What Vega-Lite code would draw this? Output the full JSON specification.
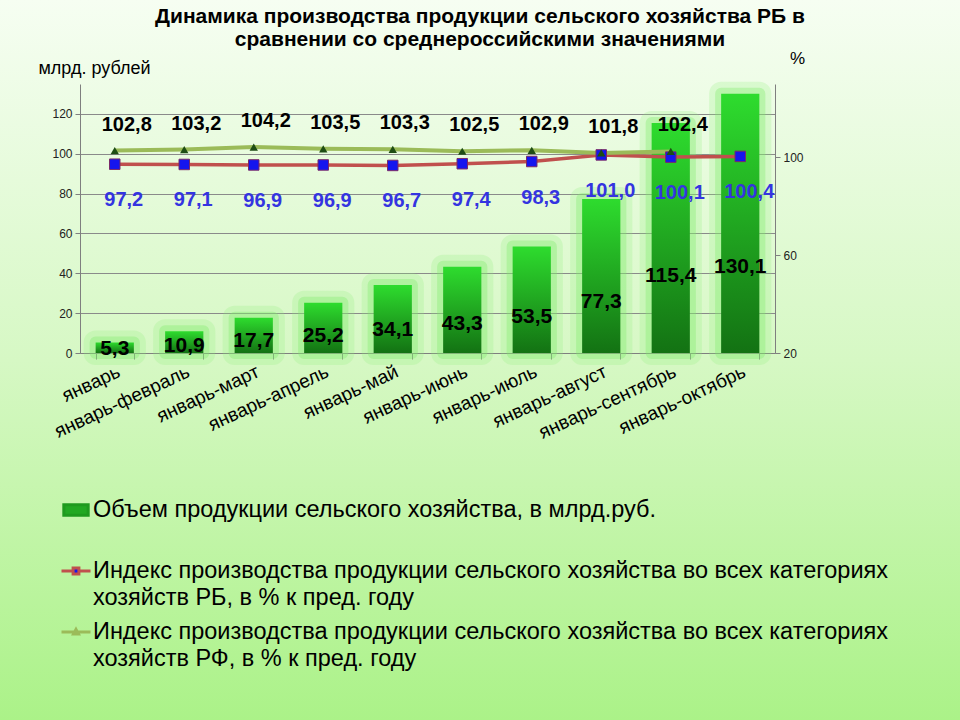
{
  "$schema": "https://vega.github.io/schema/vega-lite/v6.json",
  "width": 960,
  "height": 720,
  "autosize": {"type": "none"},
  "padding": 0,
  "background": "#d6f7c2",
  "config": {
    "view": {"stroke": null, "fill": {"gradient": "linear", "x1": 0, "y1": 0, "x2": 0, "y2": 1, "stops": [{"offset": 0, "color": "#f6fef2"}, {"offset": 0.5, "color": "#d6f8c4"}, {"offset": 1, "color": "#abf288"}]}},
    "font": "Liberation Sans",
    "locale": {"number": {"decimal": ",", "thousands": " ", "grouping": [3], "currency": ["", ""]}},
    "axis": {"labelFont": "Liberation Sans", "labelColor": "#222222", "domainColor": "#7f7f7f", "tickColor": "#7f7f7f", "gridColor": "#8a8a8a", "gridWidth": 1, "titleFont": "Liberation Sans", "titleFontWeight": "normal", "titleColor": "#000000"}
  },
  "title": {
    "text": ["Динамика производства продукции сельского хозяйства РБ в", "сравнении со среднероссийскими значениями"],
    "anchor": "middle",
    "font": "Liberation Sans",
    "fontSize": 21,
    "fontWeight": "bold",
    "color": "#000000",
    "lineHeight": 23,
    "offset": -50
  },
  "data": {"values": [
    {"period": "январь", "volume": 5.3, "rb": 97.2, "rf": 102.8},
    {"period": "январь-февраль", "volume": 10.9, "rb": 97.1, "rf": 103.2},
    {"period": "январь-март", "volume": 17.7, "rb": 96.9, "rf": 104.2},
    {"period": "январь-апрель", "volume": 25.2, "rb": 96.9, "rf": 103.5},
    {"period": "январь-май", "volume": 34.1, "rb": 96.7, "rf": 103.3},
    {"period": "январь-июнь", "volume": 43.3, "rb": 97.4, "rf": 102.5},
    {"period": "январь-июль", "volume": 53.5, "rb": 98.3, "rf": 102.9},
    {"period": "январь-август", "volume": 77.3, "rb": 101.0, "rf": 101.8},
    {"period": "январь-сентябрь", "volume": 115.4, "rb": 100.1, "rf": 102.4},
    {"period": "январь-октябрь", "volume": 130.1, "rb": 100.4, "rf": null}
  ]},
  "encoding": {
    "x": {
      "field": "period", "type": "nominal", "sort": null,
      "scale": {"range": [80, 775], "paddingInner": 0.45, "paddingOuter": 0.225},
      "axis": {"orient": "bottom", "offset": -367, "title": null, "labelAngle": -25, "labelFontSize": 19, "labelColor": "#000000", "tickBand": "extent", "tickSize": 6, "labelPadding": 3, "grid": false, "labelLimit": 300}
    }
  },
  "layer": [
    {
      "encoding": {
        "y": {"field": "volume", "type": "quantitative",
          "scale": {"domain": [0, 135], "range": [353, 84], "nice": false, "zero": true},
          "axis": {"orient": "left", "offset": -80, "values": [0, 20, 40, 60, 80, 100, 120], "grid": true, "tickSize": 5, "labelFontSize": 12, "labelPadding": 3, "title": "млрд. рублей", "titleAngle": 0, "titleX": 14, "titleY": 68, "titleAlign": "center", "titleBaseline": "middle", "titleFontSize": 18}}
      },
      "layer": [
        {"mark": {"type": "bar", "fill": "#8ef07a", "stroke": "#8ef07a", "strokeWidth": 24, "strokeJoin": "round", "opacity": 0.22}},
        {"mark": {"type": "bar", "fill": "#80ec6c", "stroke": "#80ec6c", "strokeWidth": 12, "strokeJoin": "round", "opacity": 0.35}},
        {"mark": {"type": "bar", "fill": {"gradient": "linear", "x1": 0, "y1": 0, "x2": 0, "y2": 1, "stops": [{"offset": 0, "color": "#2edc2e"}, {"offset": 1, "color": "#137213"}]}}},
        {
          "mark": {"type": "line", "strokeOpacity": 0},
          "encoding": {
            "color": {"datum": "Объем  продукции сельского хозяйства, в млрд.руб.", "type": "nominal",
              "scale": {"domain": ["Объем  продукции сельского хозяйства, в млрд.руб.", "Индекс производства продукции сельского хозяйства во всех категориях хозяйств РБ, в % к пред. году", "Индекс производства продукции сельского хозяйства во всех категориях хозяйств РФ, в % к пред. году"], "range": ["#1e9a1e", "#c0504d", "#9bbb59"]},
              "legend": {
                "orient": "none", "legendX": 60, "legendY": 494, "title": null,
                "labelFont": "Liberation Sans", "labelFontSize": 23.5, "labelColor": "#000000", "labelLimit": 900, "labelOffset": 1, "rowPadding": 6,
                "symbolSize": 841, "symbolStrokeWidth": 3,
                "labelExpr": "datum.index == 0 ? [datum.label, ' '] : split(replace(datum.label, ' хозяйств Р', '|хозяйств Р'), '|')",
                "encode": {
                  "labels": {"update": {"lineHeight": {"value": 27}}},
                  "symbols": {"update": {
                    "shape": {"signal": "datum.index == 0 ? 'M-0.84,-0.36H0.84V0.36H-0.84Z' : datum.index == 1 ? 'M-1,0H-0.2M0.2,0H1M-0.2,-0.2H0.2V0.2H-0.2Z' : 'M-1,0H1M0,-0.18L0.17,0.13H-0.17Z'"},
                    "fill": {"signal": "datum.index == 0 ? '#22a822' : datum.index == 1 ? '#1515ee' : '#1e4d14'"},
                    "opacity": {"value": 1}
                  }}
                }
              }}
          }
        }
      ]
    },
    {
      "mark": {"type": "text", "fontSize": 21, "fontWeight": "bold", "fill": "#000000", "baseline": "middle"},
      "encoding": {
        "y": {"field": "volume", "type": "quantitative", "scale": {"domain": [0, 405], "range": [353, 84], "nice": false, "zero": true}, "axis": null},
        "text": {"field": "volume", "type": "quantitative", "format": ".1f"}
      }
    },
    {
      "layer": [
        {
          "mark": {"type": "line", "stroke": "#c0504d", "strokeWidth": 3.5},
          "encoding": {
            "y": {"field": "rb", "type": "quantitative", "scale": {"domain": [20, 130], "range": [353, 84], "nice": false, "zero": false},
              "axis": {"orient": "right", "offset": -185, "values": [20, 60, 100], "grid": false, "tickSize": 5, "labelFontSize": 12, "labelPadding": 3, "title": "%", "titleAngle": 0, "titleX": 22, "titleY": 58, "titleAlign": "center", "titleBaseline": "middle", "titleFontSize": 17}},
            "color": {"datum": "Индекс производства продукции сельского хозяйства во всех категориях хозяйств РБ, в % к пред. году", "type": "nominal"}
          }
        },
        {
          "transform": [{"filter": "isValid(datum.rf)"}],
          "mark": {"type": "line", "stroke": "#9bbb59", "strokeWidth": 4},
          "encoding": {
            "y": {"field": "rf", "type": "quantitative", "scale": {"domain": [20, 130], "range": [353, 84], "nice": false, "zero": false},
              "axis": {"orient": "right", "offset": -185, "values": [20, 60, 100], "grid": false, "tickSize": 5, "labelFontSize": 12, "labelPadding": 3, "title": "%", "titleAngle": 0, "titleX": 22, "titleY": 58, "titleAlign": "center", "titleBaseline": "middle", "titleFontSize": 17}},
            "color": {"datum": "Индекс производства продукции сельского хозяйства во всех категориях хозяйств РФ, в % к пред. году", "type": "nominal"}
          }
        },
        {
          "mark": {"type": "point", "shape": "square", "filled": true, "fill": "#1515ee", "stroke": "#7a2a6a", "strokeWidth": 1, "size": 110, "opacity": 1},
          "encoding": {"y": {"field": "rb", "type": "quantitative"}}
        },
        {
          "transform": [{"filter": "isValid(datum.rf)"}],
          "mark": {"type": "point", "shape": "triangle-up", "filled": true, "fill": "#1e4d14", "size": 70, "opacity": 1},
          "encoding": {"y": {"field": "rf", "type": "quantitative"}}
        },
        {
          "mark": {"type": "text", "fontSize": 20, "fontWeight": "bold", "fill": "#3434e0", "dx": 9, "dy": 36},
          "encoding": {"y": {"field": "rb", "type": "quantitative"}, "text": {"field": "rb", "type": "quantitative", "format": ".1f"}}
        },
        {
          "transform": [{"filter": "isValid(datum.rf)"}],
          "mark": {"type": "text", "fontSize": 20, "fontWeight": "bold", "fill": "#000000", "dx": 12, "dy": -26},
          "encoding": {"y": {"field": "rf", "type": "quantitative"}, "text": {"field": "rf", "type": "quantitative", "format": ".1f"}}
        }
      ]
    }
  ],
  "resolve": {"scale": {"y": "independent"}}
}
